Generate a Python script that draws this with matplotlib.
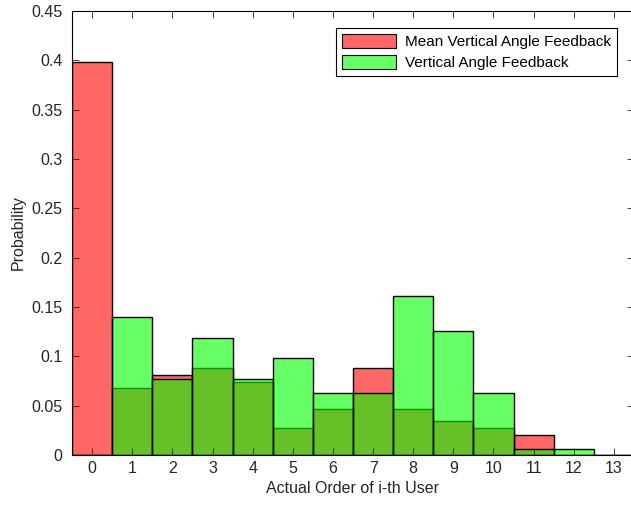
import matplotlib.pyplot as plt
from matplotlib.ticker import FuncFormatter
from matplotlib.patches import Patch

plt.rcParams['font.family'] = ['Liberation Sans', 'DejaVu Sans']

# order of the i-th user
orders = list(range(14))
mean_feedback = [0.398, 0.068, 0.081, 0.088, 0.074, 0.027, 0.047,
                 0.088, 0.047, 0.034, 0.027, 0.020, 0.0, 0.0]
vert_feedback = [0.0, 0.140, 0.077, 0.119, 0.077, 0.098, 0.0625,
                 0.0625, 0.161, 0.126, 0.0625, 0.0064, 0.0064, 0.0]
labels = ['Mean Vertical Angle Feedback', 'Vertical Angle Feedback']

fig = plt.figure(figsize=(6.31, 5.09), dpi=100)
ax = fig.add_axes([72 / 631, 1 - 455 / 509, 562 / 631, 444 / 509])

# face alpha only, edges stay solid black like matlab
ax.bar(orders, mean_feedback, width=1, facecolor=(1, 0, 0, 0.6),
       edgecolor='black', linewidth=1)
ax.bar(orders, vert_feedback, width=1, facecolor=(0, 1, 0, 0.6),
       edgecolor='black', linewidth=1)

ax.set_xlim(-0.5, 13.5)
ax.set_ylim(0, 0.45)
ax.set_xticks(orders)
ax.set_yticks([i * 0.05 for i in range(10)])
ax.yaxis.set_major_formatter(FuncFormatter(lambda v, p: '%g' % round(v, 2)))
ax.tick_params(direction='in', top=True, right=True, length=5, width=0.6,
               labelsize=11.5, colors='#262626', pad=7)
ax.tick_params(axis='x', pad=4)
for s in ax.spines.values():
    s.set_linewidth(0.8)

ax.set_xlabel('Actual Order of i-th User', fontsize=11.5, color='#262626')
ax.set_ylabel('Probability', fontsize=11.5, color='#262626')

handles = [Patch(facecolor='#ff6666', edgecolor='black', linewidth=0.8),
           Patch(facecolor='#66ff66', edgecolor='black', linewidth=0.8)]
leg = ax.legend(handles, labels, loc='upper right',
                bbox_to_anchor=(617 / 631, 1 - 28 / 509),
                bbox_transform=fig.transFigure, fontsize=11,
                fancybox=False, framealpha=1, edgecolor='black',
                borderpad=0.4, handlelength=3.5, handleheight=1.05,
                labelspacing=0.35, handletextpad=0.6, borderaxespad=0)
leg.get_frame().set_linewidth(0.8)

fig.savefig('out.png', dpi=100)
